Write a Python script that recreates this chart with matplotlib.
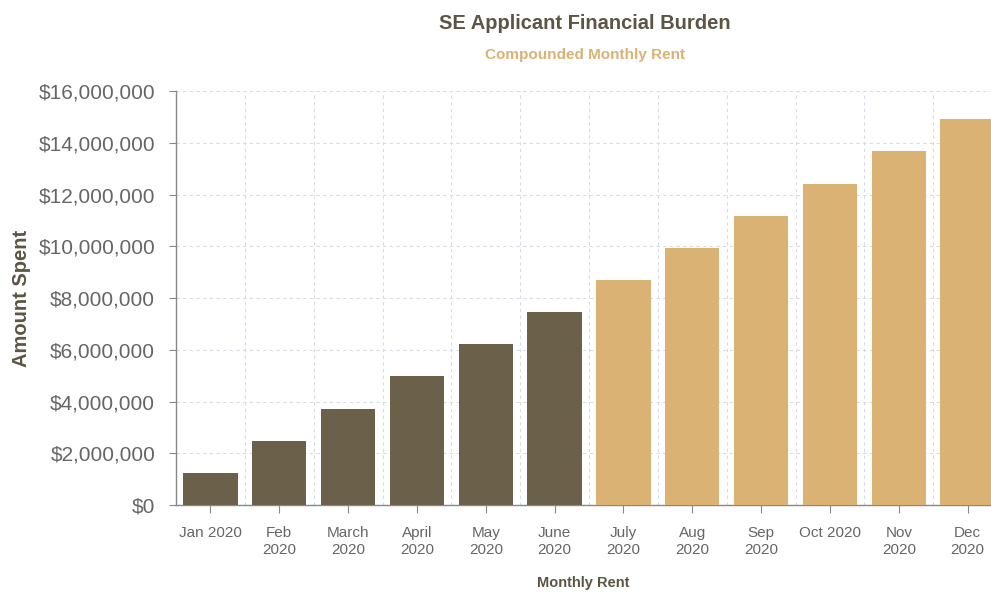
import matplotlib
matplotlib.use("Agg")
import matplotlib.pyplot as plt
from matplotlib.ticker import FuncFormatter

plt.rcParams["font.family"] = ["Liberation Sans", "DejaVu Sans"]

# --- Données ---
mois = ["Jan 2020", "Feb\n2020", "March\n2020", "April\n2020", "May\n2020", "June\n2020",
        "July\n2020", "Aug\n2020", "Sep\n2020", "Oct 2020", "Nov\n2020", "Dec\n2020"]
montants = [1250000, 2480000, 3710000, 4990000, 6230000, 7450000,
            8700000, 9920000, 11170000, 12390000, 13680000, 14920000]
passe = [True] * 6 + [False] * 6

fonce = "#6b604a"
dore = "#d9b274"
couleurs = [fonce if p else dore for p in passe]

fig = plt.figure(figsize=(9.91, 5.93), dpi=100)
ax = fig.add_axes([0.1776, 0.1484, 0.8335, 0.6981])

x = range(len(mois))
ax.bar(x, montants, width=0.79, color=couleurs, zorder=3)

ax.set_xlim(-0.5, len(mois) - 0.5)
ax.set_ylim(0, 16000000)
ax.set_yticks(range(0, 16000001, 2000000))
ax.yaxis.set_major_formatter(FuncFormatter(lambda v, p: f"${v:,.0f}"))
ax.set_xticks(list(x))
ax.set_xticklabels(mois, fontsize=11, color="#666666", linespacing=1.3)
ax.tick_params(axis="y", labelsize=15, labelcolor="#666666", length=5, color="#888888", pad=10)
ax.tick_params(axis="x", length=6, color="#888888", pad=9)

# grille décalée (entre les barres)
for k in range(len(mois)):
    ax.axvline(k + 0.5, color="#d8dbe3", linestyle=(0, (3, 3)), linewidth=0.8, zorder=1)
ax.yaxis.grid(True, color="#d8dbe3", linestyle=(0, (3, 3)), linewidth=0.8, zorder=1)
ax.set_axisbelow(True)

for s in ["top", "right"]:
    ax.spines[s].set_visible(False)
for s in ["left", "bottom"]:
    ax.spines[s].set_color("#888888")
    ax.spines[s].set_linewidth(1.0)

ax.set_ylabel("Amount Spent", fontsize=14.5, fontweight="bold", color="#5c5546")
ax.yaxis.set_label_coords(-0.176, 0.5, transform=ax.transAxes)
fig.text(0.588, 0.005, "Monthly Rent", ha="center", va="bottom",
         fontsize=10.5, fontweight="bold", color="#5c5546")

fig.text(0.59, 0.960, "SE Applicant Financial Burden", ha="center", va="center",
         fontsize=14.5, fontweight="bold", color="#5c5546")
fig.text(0.59, 0.907, "Compounded Monthly Rent", ha="center", va="center",
         fontsize=11, fontweight="bold", color=dore)

fig.savefig("out.png", dpi=100)
